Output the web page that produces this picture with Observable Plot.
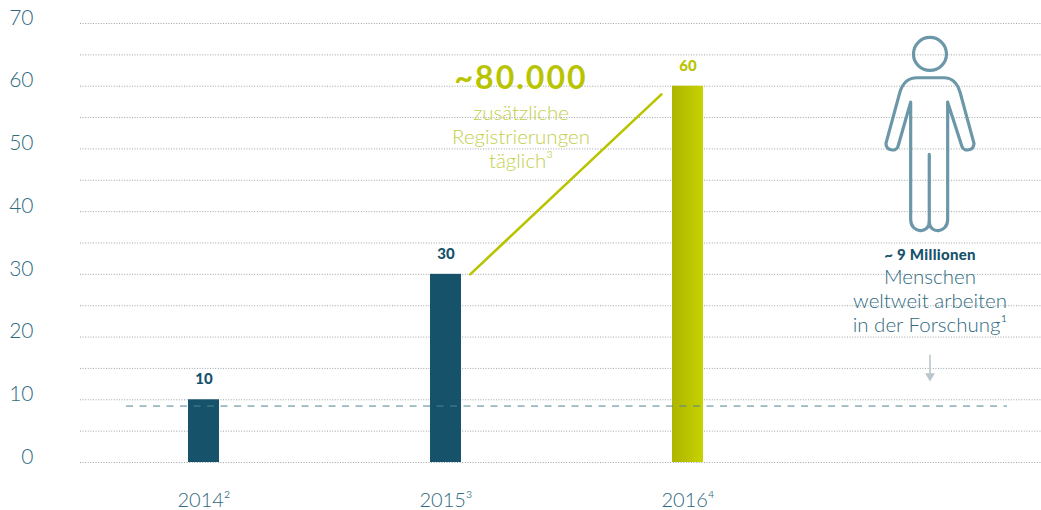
<!DOCTYPE html>
<html lang="de">
<head>
<meta charset="utf-8">
<script src="https://cdn.jsdelivr.net/npm/d3@7"></script>
<script src="https://cdn.jsdelivr.net/npm/@observablehq/plot@0.6"></script>
<style>
  html, body { margin: 0; background: #fff; }
  svg { display: block; }
  .headline text { letter-spacing: 2px; }
  .count text { letter-spacing: 0.3px; }
</style>
</head>
<body>
<div id="chart"></div>
<script>
// Registrations per year, in units of the vertical axis
const years = [2014, 2015, 2016];
const yearLabels = ["2014²", "2015³", "2016⁴"];
const values = [10, 30, 60];
const gridValues = d3.range(0, 75, 5);
const axisValues = d3.range(0, 80, 10);
const researchersMillions = 9;

const teal = "#16526a", mid = "#2f6a80", icon = "#6b97a9", green = "#b9c400";
const font = "Lato, sans-serif";

const bars = years.map((year, i) => ({year, label: yearLabels[i], value: values[i]}));
const barHalf = 0.064;

// Outline figure used for the researcher count
const figure = `<svg xmlns="http://www.w3.org/2000/svg" width="100" height="205" viewBox="0 0 100 205">
<g fill="none" stroke="${icon}" stroke-width="3.2" stroke-linecap="round" stroke-linejoin="round">
<circle cx="49" cy="23.5" r="16.5"/>
<path d="M29.7 71.7 L17 116 C15 122 5 120 5 113 L19 61.5 C22 52 28 47.3 36 47.3 L63 47.3 C71 47.3 76 52 79 61.5 L93 113 C93 120 83 122 81 116 L66.7 71.7 L66.7 189 C66.7 203 48.3 204 48.3 191 C48.3 204 29.7 203 29.7 189 Z"/>
<path d="M48.3 124 L48.3 191"/>
</g></svg>`;

// Horizontal gradient for the 2016 bar
const gradient = () => {
  const g = d3.create("svg:linearGradient").attr("id", "bar2016");
  g.append("stop").attr("offset", "0%").attr("stop-color", "#adb500");
  g.append("stop").attr("offset", "100%").attr("stop-color", "#c6d200");
  const defs = d3.create("svg:defs");
  defs.append(() => g.node());
  return defs.node();
};

const chart = Plot.plot({
  width: 1041,
  height: 510,
  marginTop: 23,
  marginBottom: 48,
  marginLeft: 80,
  marginRight: 0,
  style: {fontFamily: font, background: "#fff"},
  x: {type: "linear", domain: [2013.5, 2017.5], range: [82.5, 1050.5], axis: null},
  y: {domain: [0, 70], axis: null},
  marks: [
    gradient,
    Plot.ruleY(gridValues, {stroke: "#9aa5aa", strokeWidth: 1, strokeDasharray: "1 1.6"}),
    Plot.axisY(axisValues, {
      ticks: axisValues, tickSize: 0, tickPadding: 47, dy: -5.5,
      fontSize: 21, fontWeight: 300, fill: mid, label: null
    }),
    Plot.rectY(bars, {
      x1: d => d.year - barHalf, x2: d => d.year + barHalf, y1: 0, y2: "value",
      fill: d => d.year === 2016 ? "url(#bar2016)" : teal
    }),
    Plot.ruleY([researchersMillions], {
      x1: 2013.68, x2: 2017.32, stroke: "#4f8196", strokeWidth: 1, strokeDasharray: "7 6.5"
    }),
    Plot.text(bars, {
      x: "year", y: "value", text: d => String(d.value), dy: -20.5,
      fontSize: 15, fontWeight: 900, fill: d => d.year === 2016 ? green : teal
    }),
    Plot.text(bars, {
      x: "year", y: 0, text: "label", dy: 38,
      fontSize: 20, fontWeight: 300, fill: mid
    }),
    // Growth line from the 2015 bar towards the 2016 bar
    Plot.line([[2015.1, 30], [2015.89, 58.7]], {stroke: green, strokeWidth: 2.6}),
    Plot.text(["~80.000"], {
      x: 2015.31, y: 61.2, fontSize: 32, fontWeight: 700, fill: green, className: "headline"
    }),
    Plot.text(["zusätzliche\nRegistrierungen\ntäglich³"], {
      x: 2015.31, y: 57.3, lineAnchor: "top", lineHeight: 1.17,
      fontSize: 20.5, fontWeight: 300, fill: "#c4cf4a"
    }),
    Plot.image([{x: 2017.004, y: 52.55}], {
      x: "x", y: "y", width: 100, height: 205,
      src: () => "data:image/svg+xml," + encodeURIComponent(figure)
    }),
    Plot.text(["~ 9 Millionen"], {
      x: 2017, y: 33.1, fontSize: 15, fontWeight: 900, fill: teal, className: "count"
    }),
    Plot.text(["Menschen\nweltweit arbeiten\nin der Forschung¹"], {
      x: 2017, y: 31.1, lineAnchor: "top", lineHeight: 1.17,
      fontSize: 20.5, fontWeight: 300, fill: mid
    }),
    // Arrow pointing down to the researcher line
    Plot.ruleX([2017], {y1: 17.1, y2: 13.8, stroke: "#b9c6cc", strokeWidth: 1.6}),
    Plot.dot([[2017, 13.8]], {symbol: "triangle", r: 3.6, fill: "#b9c6cc", rotate: 180})
  ]
});
document.getElementById("chart").append(chart);
</script>
</body>
</html>
